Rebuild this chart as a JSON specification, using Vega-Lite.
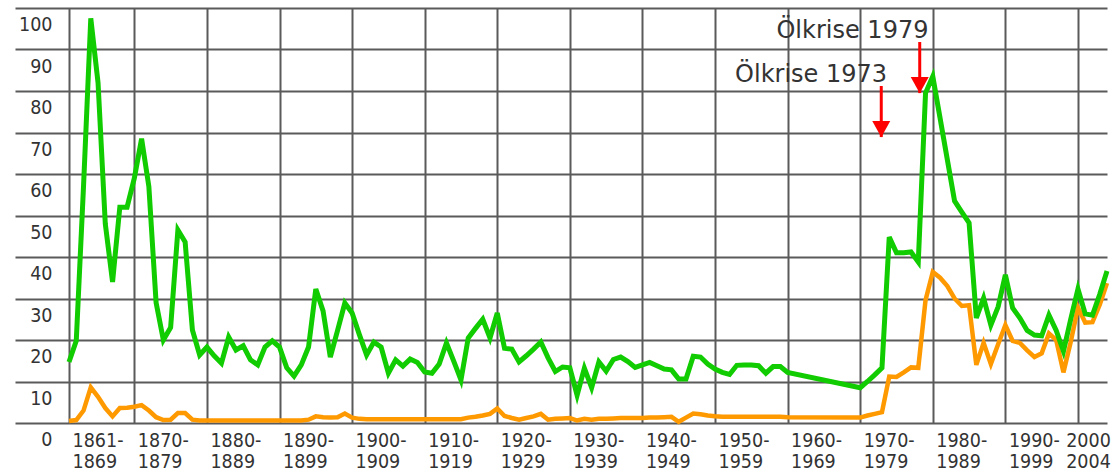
{
  "$schema": "https://vega.github.io/schema/vega-lite/v6.json",
  "width": 1092,
  "height": 415,
  "autosize": {"type": "none"},
  "padding": {"left": 15, "top": 8, "right": 8, "bottom": 49},
  "background": "white",
  "config": {"view": {"stroke": null}, "font": "DejaVu Sans Condensed, DejaVu Sans"},
  "datasets": {
    "prices": [
      {"year": 1861, "real": 14.7, "nominal": 0.5},
      {"year": 1862, "real": 19.8, "nominal": 0.7},
      {"year": 1863, "real": 57, "nominal": 3.0},
      {"year": 1864, "real": 97.5, "nominal": 8.6},
      {"year": 1865, "real": 82, "nominal": 6.3},
      {"year": 1866, "real": 48, "nominal": 3.6},
      {"year": 1867, "real": 34, "nominal": 1.6},
      {"year": 1868, "real": 52, "nominal": 3.6},
      {"year": 1869, "real": 52, "nominal": 3.7},
      {"year": 1870, "real": 59, "nominal": 3.9},
      {"year": 1871, "real": 68.5, "nominal": 4.3},
      {"year": 1872, "real": 57, "nominal": 3.0},
      {"year": 1873, "real": 29, "nominal": 1.4},
      {"year": 1874, "real": 20, "nominal": 0.7},
      {"year": 1875, "real": 23, "nominal": 0.8},
      {"year": 1876, "real": 46.5, "nominal": 2.4},
      {"year": 1877, "real": 43.6, "nominal": 2.4},
      {"year": 1878, "real": 22.4, "nominal": 0.8},
      {"year": 1879, "real": 16.4, "nominal": 0.6},
      {"year": 1880, "real": 18.3, "nominal": 0.6},
      {"year": 1881, "real": 16.2, "nominal": 0.6},
      {"year": 1882, "real": 14.4, "nominal": 0.6},
      {"year": 1883, "real": 20.7, "nominal": 0.6},
      {"year": 1884, "real": 17.6, "nominal": 0.6},
      {"year": 1885, "real": 18.6, "nominal": 0.6},
      {"year": 1886, "real": 15.2, "nominal": 0.6},
      {"year": 1887, "real": 14, "nominal": 0.6},
      {"year": 1888, "real": 18.3, "nominal": 0.6},
      {"year": 1889, "real": 19.8, "nominal": 0.6},
      {"year": 1890, "real": 18.3, "nominal": 0.6},
      {"year": 1891, "real": 13.3, "nominal": 0.6},
      {"year": 1892, "real": 11.3, "nominal": 0.6},
      {"year": 1893, "real": 14, "nominal": 0.6},
      {"year": 1894, "real": 18.3, "nominal": 0.8},
      {"year": 1895, "real": 32.3, "nominal": 1.6},
      {"year": 1896, "real": 27, "nominal": 1.4},
      {"year": 1897, "real": 15.9, "nominal": 1.3},
      {"year": 1898, "real": 22.3, "nominal": 1.4},
      {"year": 1899, "real": 28.9, "nominal": 2.3},
      {"year": 1900, "real": 26.5, "nominal": 1.3},
      {"year": 1901, "real": 21.3, "nominal": 1.0},
      {"year": 1902, "real": 16.4, "nominal": 0.9},
      {"year": 1903, "real": 19.5, "nominal": 0.9},
      {"year": 1904, "real": 18.3, "nominal": 0.9},
      {"year": 1905, "real": 12, "nominal": 0.9},
      {"year": 1906, "real": 15.2, "nominal": 0.9},
      {"year": 1907, "real": 13.7, "nominal": 0.9},
      {"year": 1908, "real": 15.4, "nominal": 0.9},
      {"year": 1909, "real": 14.6, "nominal": 0.9},
      {"year": 1910, "real": 12.3, "nominal": 0.9},
      {"year": 1911, "real": 12, "nominal": 0.9},
      {"year": 1912, "real": 14.2, "nominal": 0.9},
      {"year": 1913, "real": 19.3, "nominal": 0.9},
      {"year": 1914, "real": 14.9, "nominal": 0.9},
      {"year": 1915, "real": 10.4, "nominal": 0.9},
      {"year": 1916, "real": 20.5, "nominal": 1.3},
      {"year": 1917, "real": 22.8, "nominal": 1.5},
      {"year": 1918, "real": 25, "nominal": 1.8},
      {"year": 1919, "real": 20.5, "nominal": 2.2},
      {"year": 1920, "real": 26.5, "nominal": 3.5},
      {"year": 1921, "real": 18, "nominal": 1.7},
      {"year": 1922, "real": 17.8, "nominal": 1.2},
      {"year": 1923, "real": 14.7, "nominal": 0.8},
      {"year": 1924, "real": 16.2, "nominal": 1.2},
      {"year": 1925, "real": 17.8, "nominal": 1.6},
      {"year": 1926, "real": 19.5, "nominal": 2.2},
      {"year": 1927, "real": 15.7, "nominal": 0.8},
      {"year": 1928, "real": 12.4, "nominal": 1.0},
      {"year": 1929, "real": 13.5, "nominal": 1.1},
      {"year": 1930, "real": 13.3, "nominal": 1.2},
      {"year": 1931, "real": 6.7, "nominal": 0.6},
      {"year": 1932, "real": 13.2, "nominal": 1.0},
      {"year": 1933, "real": 8.5, "nominal": 0.8},
      {"year": 1934, "real": 14.7, "nominal": 1.0},
      {"year": 1935, "real": 12.5, "nominal": 1.0},
      {"year": 1936, "real": 15.3, "nominal": 1.1},
      {"year": 1937, "real": 15.9, "nominal": 1.2},
      {"year": 1938, "real": 14.8, "nominal": 1.2},
      {"year": 1939, "real": 13.4, "nominal": 1.2},
      {"year": 1940, "real": 14, "nominal": 1.2},
      {"year": 1941, "real": 14.6, "nominal": 1.3},
      {"year": 1942, "real": 13.8, "nominal": 1.3},
      {"year": 1943, "real": 13, "nominal": 1.4},
      {"year": 1944, "real": 12.8, "nominal": 1.5},
      {"year": 1945, "real": 10.6, "nominal": 0.3},
      {"year": 1946, "real": 10.6, "nominal": 1.3},
      {"year": 1947, "real": 16.1, "nominal": 2.3},
      {"year": 1948, "real": 15.9, "nominal": 2.1},
      {"year": 1949, "real": 14.2, "nominal": 1.8},
      {"year": 1950, "real": 13, "nominal": 1.6},
      {"year": 1951, "real": 12.2, "nominal": 1.5},
      {"year": 1952, "real": 11.7, "nominal": 1.5},
      {"year": 1953, "real": 13.9, "nominal": 1.5},
      {"year": 1954, "real": 14, "nominal": 1.5},
      {"year": 1955, "real": 14, "nominal": 1.5},
      {"year": 1956, "real": 13.8, "nominal": 1.5},
      {"year": 1957, "real": 12, "nominal": 1.5},
      {"year": 1958, "real": 13.6, "nominal": 1.5},
      {"year": 1959, "real": 13.6, "nominal": 1.5},
      {"year": 1960, "real": 12.2, "nominal": 1.4},
      {"year": 1970, "real": 8.5, "nominal": 1.3},
      {"year": 1971, "real": 10, "nominal": 1.8},
      {"year": 1972, "real": 11.6, "nominal": 2.2},
      {"year": 1973, "real": 13.3, "nominal": 2.6},
      {"year": 1974, "real": 44.8, "nominal": 11.2},
      {"year": 1975, "real": 41, "nominal": 11.1},
      {"year": 1976, "real": 41, "nominal": 12.2},
      {"year": 1977, "real": 41.2, "nominal": 13.4},
      {"year": 1978, "real": 38.8, "nominal": 13.3},
      {"year": 1979, "real": 79.5, "nominal": 29.6},
      {"year": 1980, "real": 83.5, "nominal": 36.4},
      {"year": 1981, "real": 73.5, "nominal": 35},
      {"year": 1982, "real": 63.5, "nominal": 33},
      {"year": 1983, "real": 53.5, "nominal": 30},
      {"year": 1984, "real": 50.8, "nominal": 28.2},
      {"year": 1985, "real": 48.2, "nominal": 28.4},
      {"year": 1986, "real": 25.3, "nominal": 14},
      {"year": 1987, "real": 30.1, "nominal": 19.3},
      {"year": 1988, "real": 23.6, "nominal": 14.2},
      {"year": 1989, "real": 28, "nominal": 19},
      {"year": 1990, "real": 35.7, "nominal": 23.6},
      {"year": 1991, "real": 27.7, "nominal": 19.8},
      {"year": 1992, "real": 25.3, "nominal": 19.3},
      {"year": 1993, "real": 22.3, "nominal": 17.5},
      {"year": 1994, "real": 21.2, "nominal": 15.9},
      {"year": 1995, "real": 21, "nominal": 16.8},
      {"year": 1996, "real": 26, "nominal": 21.6},
      {"year": 1997, "real": 22.3, "nominal": 20},
      {"year": 1998, "real": 17.3, "nominal": 12.2},
      {"year": 1999, "real": 25, "nominal": 19.5},
      {"year": 2000, "real": 32.3, "nominal": 27.8},
      {"year": 2001, "real": 26.3, "nominal": 24.2},
      {"year": 2002, "real": 26, "nominal": 24.3},
      {"year": 2003, "real": 31, "nominal": 28.5},
      {"year": 2004, "real": 36.6, "nominal": 33.7}
    ],
    "notes": [
      {"label": "Ölkrise 1979", "year": 1979.4, "value": 92.7},
      {"label": "Ölkrise 1973", "year": 1973.7, "value": 82.2}
    ],
    "arrows": [
      {"crisis": "1979", "year": 1978.2, "top": 91.8, "tip": 79.5},
      {"crisis": "1973", "year": 1972.9, "top": 81.2, "tip": 68.9}
    ]
  },
  "layer": [
    {
      "data": {"name": "prices"},
      "mark": {"type": "line", "color": "#ff9900", "strokeWidth": 4.5},
      "encoding": {
        "x": {
          "field": "year", "type": "quantitative",
          "scale": {"domain": [1853.56, 2004], "nice": false, "zero": false},
          "axis": {
            "title": null,
            "values": [1861, 1870, 1880, 1890, 1900, 1910, 1920, 1930, 1940, 1950, 1960, 1970, 1980, 1990, 2000],
            "grid": true, "gridColor": "#5a5a5a", "gridWidth": 2,
            "ticks": false, "domain": false,
            "labelExpr": "datum.value == 1861 ? ['1861-', '1869'] : datum.value == 2000 ? ['2000', '2004'] : [datum.value + '-', (datum.value + 9) + '']",
            "labelAlign": {"condition": {"test": "datum.value == 2000", "value": "center"}, "value": "left"},
            "labelOffset": {"condition": {"test": "datum.value == 2000", "value": 10}, "value": 3},
            "labelBaseline": "top",
            "labelPadding": 8,
            "labelLineHeight": 21,
            "labelFontSize": 19.5,
            "labelColor": "#333333",
            "labelFlush": false, "labelOverlap": false, "labelBound": false
          }
        },
        "y": {
          "field": "nominal", "type": "quantitative",
          "scale": {"domain": [0, 100], "nice": false},
          "axis": {
            "title": null,
            "values": [0, 10, 20, 30, 40, 50, 60, 70, 80, 90, 100],
            "grid": true, "gridColor": "#5a5a5a", "gridWidth": 2,
            "ticks": false, "domain": false,
            "labelAlign": "right", "labelBaseline": "middle",
            "labelPadding": -37, "labelOffset": 16.5,
            "labelFontSize": 19.5, "labelColor": "#333333",
            "labelFlush": false, "labelOverlap": false, "labelBound": false
          }
        }
      }
    },
    {
      "data": {"name": "prices"},
      "mark": {"type": "line", "color": "#11cc00", "strokeWidth": 5},
      "encoding": {
        "x": {"field": "year", "type": "quantitative"},
        "y": {"field": "real", "type": "quantitative"}
      }
    },
    {
      "data": {"name": "arrows"},
      "mark": {"type": "rule", "color": "#ff0000", "strokeWidth": 3},
      "encoding": {
        "x": {"field": "year", "type": "quantitative"},
        "y": {"field": "top", "type": "quantitative"},
        "y2": {"field": "tip"}
      }
    },
    {
      "data": {"name": "arrows"},
      "mark": {"type": "point", "shape": "M-1,-0.9L1,-0.9L0,0.9Z", "size": 324, "filled": true, "color": "#ff0000", "opacity": 1, "strokeWidth": 0, "yOffset": -8},
      "encoding": {
        "x": {"field": "year", "type": "quantitative"},
        "y": {"field": "tip", "type": "quantitative"}
      }
    },
    {
      "data": {"name": "notes"},
      "mark": {"type": "text", "align": "right", "baseline": "alphabetic", "fontSize": 24, "font": "DejaVu Sans", "color": "#333333"},
      "encoding": {
        "x": {"field": "year", "type": "quantitative"},
        "y": {"field": "value", "type": "quantitative"},
        "text": {"field": "label"}
      }
    }
  ]
}
